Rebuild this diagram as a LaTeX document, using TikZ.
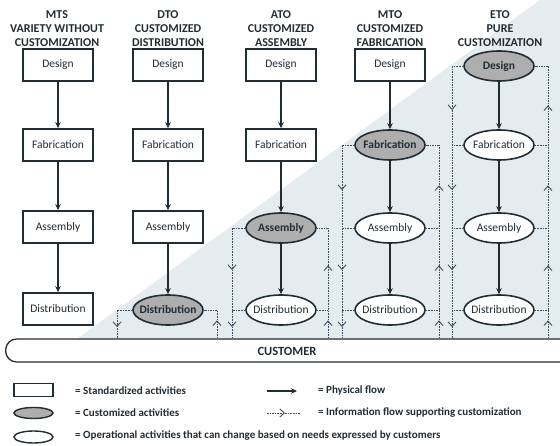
\documentclass[tikz,border=0pt]{standalone}
\usepackage{fontspec}
\setmainfont{Carlito}
\usetikzlibrary{shapes.geometric, arrows.meta, decorations.markings}
\definecolor{ink}{HTML}{222C33}
\definecolor{infocol}{HTML}{3E4E5A}
\definecolor{shadebg}{HTML}{E5ECF0}
\definecolor{custfill}{HTML}{AEAEAE}
\newcommand\nlab[1]{\makebox[0pt]{#1}}
\begin{document}
\begin{tikzpicture}[x=1pt, y=-1pt,
 box/.style={rectangle, draw=ink, line width=1.6pt, fill=white, minimum width=70pt, minimum height=32pt, inner sep=0pt, font=\fontsize{11.5}{13}\selectfont, text=ink},
 opel/.style={ellipse, draw=ink, line width=1.6pt, fill=white, minimum width=70pt, minimum height=30pt, inner sep=0pt, font=\fontsize{11.5}{13}\selectfont, text=ink},
 cuel/.style={opel, fill=custfill, font=\fontsize{11.5}{13}\selectfont\bfseries},
 flow/.style={draw=ink, line width=1.3pt, -{Stealth[length=6pt,width=5.5pt]}},
 info/.style={draw=infocol, line width=0.9pt, dash pattern=on 1.6pt off 1pt},
 chev/.style={postaction={decorate, decoration={markings, mark=at position #1 with {\arrow{Straight Barb[length=4.5pt,width=8pt,line width=0.9pt,color=infocol]}}}}},
 head/.style={align=center, font=\fontsize{12}{14}\selectfont\bfseries, text=ink, inner sep=0pt},
 legtext/.style={anchor=west, font=\fontsize{11}{12}\selectfont\bfseries, text=ink, inner sep=0pt},
]
\useasboundingbox (0,0) rectangle (560,446);
\fill[shadebg] (77,339) -- (540,0) -- (560,0) -- (560,339) -- cycle;

% customer bar
\node[draw=ink, line width=1.3pt, fill=white, rounded corners=11pt, minimum width=600pt, minimum height=23pt, anchor=west, inner sep=0pt] (cust) at (5,350.5) {};
\node[font=\fontsize{12.5}{14}\selectfont\bfseries, text=ink, inner sep=0pt] (custlab) at (287,351) {CUSTOMER};

% headers
\node[head] (hMTS) at (57,29) {MTS\\VARIETY WITHOUT\\CUSTOMIZATION};
\node[head] (hDTO) at (168,29) {DTO\\CUSTOMIZED\\DISTRIBUTION};
\node[head] (hATO) at (281,29) {ATO\\CUSTOMIZED\\ASSEMBLY};
\node[head] (hMTO) at (390,29) {MTO\\CUSTOMIZED\\FABRICATION};
\node[head] (hETO) at (500,29) {ETO\\PURE\\CUSTOMIZATION};

% MTS
\node[box] (mtsD) at (58,65) {Design};
\node[box] (mtsF) at (58,145) {Fabrication};
\node[box] (mtsA) at (58,227) {Assembly};
\node[box] (mtsT) at (58,309) {Distribution};
% DTO
\node[box] (dtoD) at (168,65) {Design};
\node[box] (dtoF) at (168,145) {Fabrication};
\node[box] (dtoA) at (168,227) {Assembly};
\node[cuel] (dtoT) at (168,310) {\nlab{Distribution}};
% ATO
\node[box] (atoD) at (281,65) {Design};
\node[box] (atoF) at (281,145) {Fabrication};
\node[cuel] (atoA) at (281,228) {\nlab{Assembly}};
\node[opel] (atoT) at (281,310) {\nlab{Distribution}};
% MTO
\node[box] (mtoD) at (390,65) {Design};
\node[cuel] (mtoF) at (390,145) {\nlab{Fabrication}};
\node[opel] (mtoA) at (390,228) {\nlab{Assembly}};
\node[opel] (mtoT) at (390,310) {\nlab{Distribution}};
% ETO
\node[cuel] (etoD) at (499,66) {\nlab{Design}};
\node[opel] (etoF) at (499,145) {\nlab{Fabrication}};
\node[opel] (etoA) at (499,228) {\nlab{Assembly}};
\node[opel] (etoT) at (499,310) {\nlab{Distribution}};

% physical flows
\foreach \c in {mts,dto,ato,mto,eto}{
  \draw[flow] (\c D) -- (\c F);
  \draw[flow] (\c F) -- (\c A);
  \draw[flow] (\c A) -- (\c T);
}

% info flows DTO
\coordinate (dtoL) at (117,310);
\coordinate (dtoR) at (217,310);
\draw[info] (dtoT.west) -- (dtoL);
\draw[info, chev=17pt] (dtoL) -- (dtoL |- cust.north);
\draw[info, chev=18pt] (dtoR |- cust.north) -- (dtoR);
\draw[info] (dtoR) -- (dtoT.east);

% info flows ATO
\coordinate (atoL) at (232,228);
\coordinate (atoR) at (328,228);
\draw[info] (atoA.west) -- (atoL);
\draw[info, chev=42pt, chev=99pt] (atoL) -- (atoL |- cust.north);
\draw[info, chev=18pt, chev=73pt] (atoR |- cust.north) -- (atoR);
\draw[info] (atoR) -- (atoA.east);
\draw[info] (atoT.west) -- (atoT.west -| atoL);
\draw[info] (atoT.east) -- (atoT.east -| atoR);

% info flows MTO
\coordinate (mtoL) at (342,145);
\coordinate (mtoR) at (439,145);
\draw[info] (mtoF.west) -- (mtoL);
\draw[info, chev=45pt, chev=125pt, chev=182pt] (mtoL) -- (mtoL |- cust.north);
\draw[info, chev=18pt, chev=73pt, chev=153pt] (mtoR |- cust.north) -- (mtoR);
\draw[info] (mtoR) -- (mtoF.east);
\draw[info] (mtoA.west) -- (mtoA.west -| mtoL);
\draw[info] (mtoA.east) -- (mtoA.east -| mtoR);
\draw[info] (mtoT.west) -- (mtoT.west -| mtoL);
\draw[info] (mtoT.east) -- (mtoT.east -| mtoR);

% info flows ETO
\coordinate (etoL) at (452,66);
\coordinate (etoR) at (548,66);
\draw[info] (etoD.west) -- (etoL);
\draw[info, chev=44pt, chev=124pt, chev=204pt, chev=261pt] (etoL) -- (etoL |- cust.north);
\draw[info, chev=18pt, chev=73pt, chev=153pt, chev=233pt] (etoR |- cust.north) -- (etoR);
\draw[info] (etoR) -- (etoD.east);
\draw[info] (etoF.west) -- (etoF.west -| etoL);
\draw[info] (etoF.east) -- (etoF.east -| etoR);
\draw[info] (etoA.west) -- (etoA.west -| etoL);
\draw[info] (etoA.east) -- (etoA.east -| etoR);
\draw[info] (etoT.west) -- (etoT.west -| etoL);
\draw[info] (etoT.east) -- (etoT.east -| etoR);

% legend
\node[box, minimum width=39pt, minimum height=13pt, line width=1.4pt] (lgBox) at (33.5,390) {};
\node[cuel, minimum width=39pt, minimum height=11pt, line width=1.4pt] (lgCust) at (33.5,413) {};
\node[opel, minimum width=39pt, minimum height=12pt, line width=1.4pt] (lgOper) at (33.5,437) {};
\node[legtext] (lt1) at (75,391) {= Standardized activities};
\node[legtext] (lt2) at (75,413) {= Customized activities};
\node[legtext] (lt3) at (75,436) {= Operational activities that can change based on needs expressed by customers};
\coordinate (pfA) at (267,391);
\coordinate (pfB) at (297,391);
\draw[flow] (pfA) -- (pfB);
\coordinate (ifA) at (267,413);
\coordinate (ifB) at (300,413);
\draw[info, chev=18pt] (ifA) -- (ifB);
\node[legtext] (lt4) at (318,391) {= Physical flow};
\node[legtext] (lt5) at (318,413) {= Information flow supporting customization};
\end{tikzpicture}
\end{document}
